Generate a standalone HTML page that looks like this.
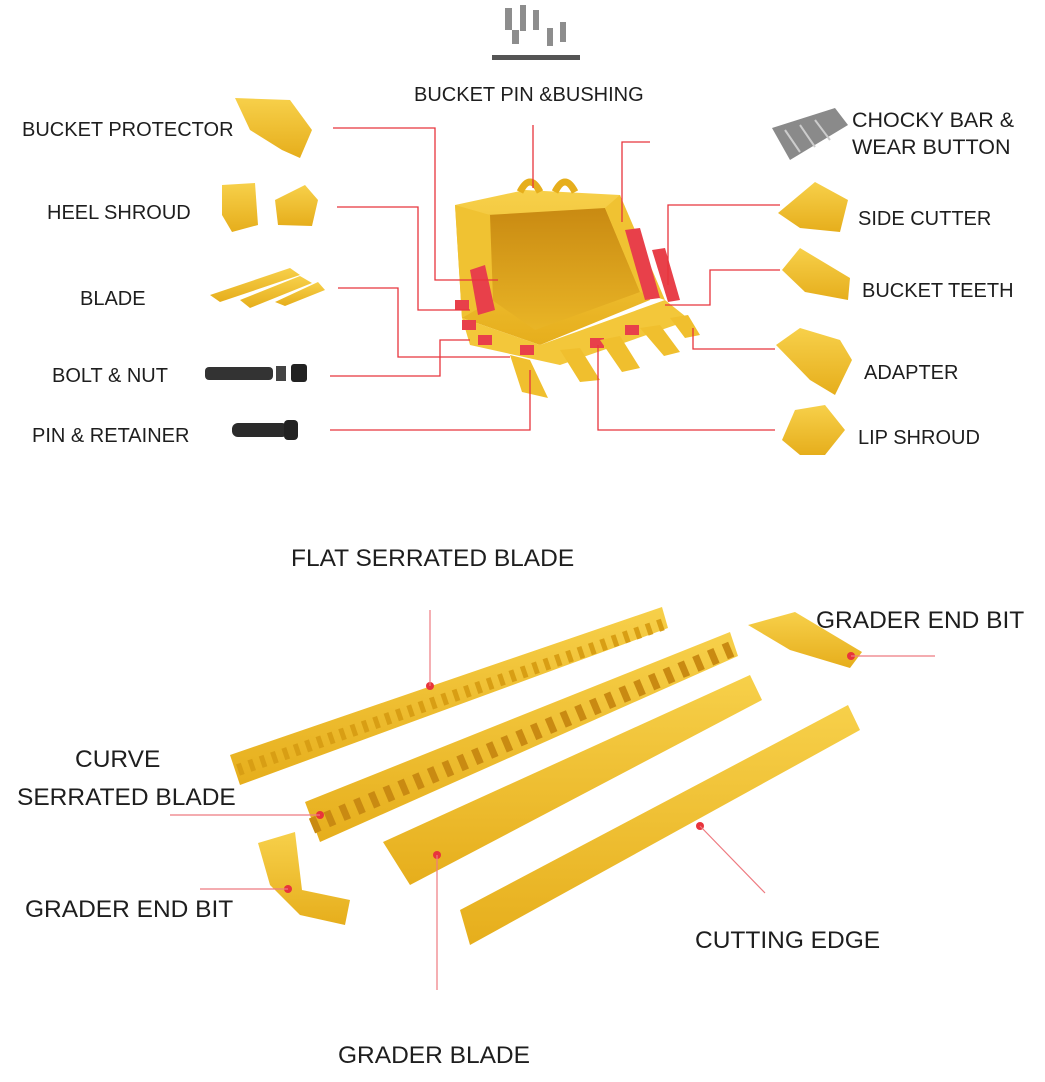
<!DOCTYPE html>
<html><head><meta charset="utf-8"><style>
html,body{margin:0;padding:0;background:#fff}
svg{display:block}
text{font-family:"Liberation Sans",sans-serif;font-size:20px;fill:#1e1e1e}
text.b{font-size:24.5px}
</style></head><body>
<svg width="1045" height="1082" viewBox="0 0 1045 1082" xmlns="http://www.w3.org/2000/svg">
<rect width="1045" height="1082" fill="#fff"/>
<defs>
<linearGradient id="y" x1="0" y1="0" x2="0" y2="1"><stop offset="0" stop-color="#f7d04a"/><stop offset="1" stop-color="#e6ae1c"/></linearGradient>
<linearGradient id="d" x1="0" y1="0" x2="0" y2="1"><stop offset="0" stop-color="#c98a12"/><stop offset="1" stop-color="#e9b526"/></linearGradient>
</defs>

<g fill="#8d8d8d">
<rect x="505" y="8" width="7" height="22"/><rect x="520" y="5" width="6" height="26"/><rect x="533" y="10" width="6" height="20"/>
<rect x="547" y="28" width="6" height="18"/><rect x="560" y="22" width="6" height="20"/><rect x="512" y="30" width="7" height="14"/>
<rect x="492" y="55" width="88" height="5" fill="#555"/>
</g>

<polygon points="455,205 525,190 620,195 650,300 540,345 462,318" fill="url(#y)"/>
<polygon points="487,215 605,208 640,292 535,330 492,300" fill="url(#d)"/>
<polygon points="455,205 490,215 493,300 462,318" fill="#f0c232"/>
<polygon points="605,208 620,195 665,300 640,292" fill="#f0c232"/>
<polygon points="462,318 540,345 665,300 690,320 560,365 470,345" fill="#f3c73a"/>
<path d="M520 192 q10 -20 20 0 M555 192 q10 -20 20 0" stroke="#e6ae1c" stroke-width="7" fill="none"/>
<g fill="#e8404a">
<polygon points="470,270 485,265 495,310 478,315"/><polygon points="625,230 640,228 660,298 645,300"/>
<polygon points="652,250 665,248 680,300 668,302"/>
<rect x="455" y="300" width="14" height="10"/><rect x="462" y="320" width="14" height="10"/><rect x="478" y="335" width="14" height="10"/>
<rect x="520" y="345" width="14" height="10"/><rect x="590" y="338" width="14" height="10"/><rect x="625" y="325" width="14" height="10"/>
</g>
<g fill="#f0bf2e">
<polygon points="510,355 530,360 548,398 522,392"/><polygon points="560,350 580,348 600,380 580,382"/>
<polygon points="600,340 620,336 640,368 622,372"/><polygon points="640,328 660,325 680,352 664,356"/>
<polygon points="670,318 688,315 700,335 685,338"/>
</g>

<polygon points="235,98 290,100 312,130 300,158 282,150 250,130" fill="url(#y)"/>
<polygon points="222,185 255,183 258,225 232,232 222,215" fill="url(#y)"/>
<polygon points="275,200 305,185 318,200 312,226 278,225" fill="url(#y)"/>
<polygon points="210,295 290,268 300,275 220,302" fill="url(#y)"/>
<polygon points="240,300 300,276 312,283 250,308" fill="url(#y)"/>
<polygon points="275,302 318,282 325,290 285,306" fill="url(#y)"/>
<rect x="205" y="367" width="68" height="13" rx="4" fill="#333"/>
<rect x="276" y="366" width="10" height="15" fill="#444"/><rect x="291" y="364" width="16" height="18" rx="3" fill="#222"/>
<rect x="232" y="423" width="56" height="14" rx="6" fill="#2b2b2b"/><rect x="284" y="420" width="14" height="20" rx="4" fill="#222"/>

<g fill="#8a8a8a"><polygon points="772,128 835,108 848,125 790,160"/></g>
<g stroke="#ccc" stroke-width="2"><line x1="785" y1="130" x2="800" y2="152"/><line x1="800" y1="125" x2="815" y2="147"/><line x1="815" y1="120" x2="830" y2="140"/></g>
<polygon points="778,213 815,182 848,200 840,232 800,228" fill="url(#y)"/>
<polygon points="782,270 800,248 850,278 848,300 805,292" fill="url(#y)"/>
<polygon points="776,345 800,328 840,340 852,360 835,395 810,380" fill="url(#y)"/>
<polygon points="782,440 795,410 825,405 845,430 825,455 800,455" fill="url(#y)"/>

<g stroke="#e8343c" stroke-width="1.3" fill="none">
<polyline points="333,128 435,128 435,280 498,280"/>
<polyline points="337,207 418,207 418,310 470,310"/>
<polyline points="338,288 398,288 398,357 510,357"/>
<polyline points="330,376 440,376 440,340 470,340"/>
<polyline points="330,430 530,430 530,370"/>
<polyline points="533,125 533,188"/>
<polyline points="650,142 622,142 622,222"/>
<polyline points="780,205 668,205 668,285"/>
<polyline points="780,270 710,270 710,305 665,305"/>
<polyline points="775,349 693,349 693,328"/>
<polyline points="775,430 598,430 598,345"/>
</g>

<text x="414" y="101">BUCKET PIN &amp;BUSHING</text>
<text x="22" y="136">BUCKET PROTECTOR</text>
<text x="47" y="219">HEEL SHROUD</text>
<text x="80" y="305">BLADE</text>
<text x="52" y="382">BOLT &amp; NUT</text>
<text x="32" y="442">PIN &amp; RETAINER</text>
<text x="852" y="127" style="font-size:21.5px">CHOCKY BAR &amp;</text>
<text x="852" y="154" style="font-size:21.5px">WEAR BUTTON</text>
<text x="858" y="225">SIDE CUTTER</text>
<text x="862" y="297">BUCKET TEETH</text>
<text x="864" y="379">ADAPTER</text>
<text x="858" y="444">LIP SHROUD</text>

<polygon points="230,755 662,607 668,628 240,785" fill="url(#y)"/>
<line x1="238" y1="770" x2="664" y2="624" stroke="#d89e14" stroke-width="12" stroke-dasharray="5 7"/>
<polygon points="305,802 730,632 738,656 320,842" fill="url(#y)"/>
<line x1="312" y1="826" x2="734" y2="648" stroke="#c98a12" stroke-width="16" stroke-dasharray="7 9"/>
<polygon points="383,842 750,675 762,700 410,885" fill="url(#y)"/>
<polygon points="460,910 848,705 860,730 470,945" fill="url(#y)"/>
<polygon points="748,625 795,612 862,652 850,668 790,650" fill="url(#y)"/>
<polygon points="258,843 295,832 302,890 350,900 345,925 300,915 270,885" fill="url(#y)"/>
<g fill="#e8343c"><circle cx="430" cy="686" r="4"/><circle cx="851" cy="656" r="4"/><circle cx="320" cy="815" r="4"/><circle cx="288" cy="889" r="4"/><circle cx="700" cy="826" r="4"/><circle cx="437" cy="855" r="4"/></g>
<g stroke="#ee7a80" stroke-width="1.2" fill="none">
<line x1="430" y1="610" x2="430" y2="686"/>
<line x1="851" y1="656" x2="935" y2="656"/>
<line x1="170" y1="815" x2="320" y2="815"/>
<line x1="200" y1="889" x2="288" y2="889"/>
<line x1="700" y1="826" x2="765" y2="893"/>
<line x1="437" y1="855" x2="437" y2="990"/>
</g>

<text class="b" x="291" y="566">FLAT SERRATED BLADE</text>
<text class="b" x="816" y="628">GRADER END BIT</text>
<text class="b" x="75" y="767">CURVE</text>
<text class="b" x="17" y="805">SERRATED BLADE</text>
<text class="b" x="25" y="917">GRADER END BIT</text>
<text class="b" x="695" y="948">CUTTING EDGE</text>
<text class="b" x="338" y="1063">GRADER BLADE</text>
</svg>
</body></html>
